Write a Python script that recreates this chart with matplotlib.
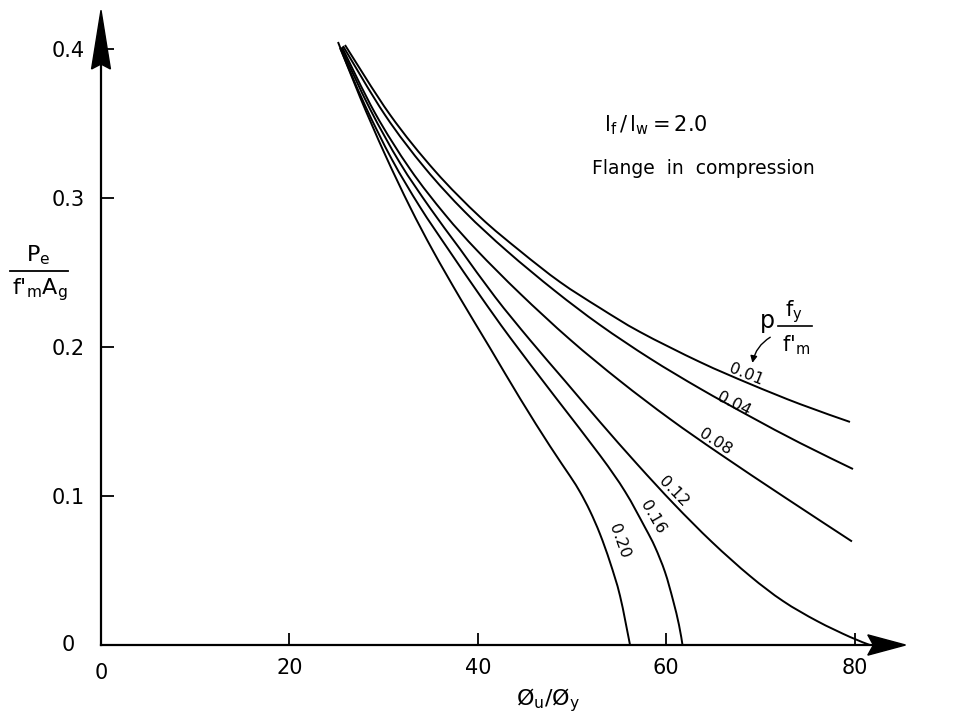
import matplotlib
matplotlib.use("Agg")
import matplotlib.pyplot as plt
from matplotlib.lines import Line2D
from matplotlib.patches import PathPatch, Polygon
from matplotlib.path import Path

plt.rcParams["font.family"] = "DejaVu Sans"
plt.rcParams["mathtext.default"] = "regular"

# ── Dados (phi_u/phi_y  x  Pe/(f'm Ag)) ───────────────────────────────────────
rho_labels = ["0.01", "0.04", "0.08", "0.12", "0.16", "0.20"]

x_001 = [25.90, 30.68, 35.46, 40.23, 44.48, 48.73, 52.97, 57.22, 63.59, 68.90, 74.20, 79.51]
y_001 = [0.4027, 0.3559, 0.3181, 0.2873, 0.2645, 0.2436, 0.2262, 0.2101, 0.1899, 0.1752,
         0.1617, 0.1497]

x_004 = [25.69, 30.15, 34.39, 38.64, 43.10, 48.20, 52.97, 58.28, 63.59, 68.90, 74.20, 79.83]
y_004 = [0.4020, 0.3557, 0.3201, 0.2906, 0.2644, 0.2376, 0.2148, 0.1923, 0.1721, 0.1534,
         0.1356, 0.1181]

x_008 = [25.58, 29.09, 32.80, 36.52, 39.92, 44.48, 49.79, 55.10, 60.40, 65.71, 72.61, 79.72]
y_008 = [0.4013, 0.3570, 0.3195, 0.2889, 0.2648, 0.2359, 0.2050, 0.1772, 0.1517, 0.1282,
         0.0990, 0.0695]

x_012 = [25.48, 28.56, 31.74, 34.93, 38.11, 41.83, 45.54, 49.26, 52.97, 56.90, 60.83,
         64.86, 68.90, 72.40, 76.01, 79.51, 81.63]
y_012 = [0.4007, 0.3597, 0.3235, 0.2933, 0.2658, 0.2336, 0.2047, 0.1772, 0.1497, 0.1215,
         0.0946, 0.0691, 0.0463, 0.0295, 0.0161, 0.0054, 0.0]

x_016 = [25.37, 28.03, 30.89, 33.86, 36.84, 40.23, 43.42, 48.20, 52.97, 55.63, 57.75,
         58.81, 59.87, 60.72, 61.36, 61.73]
y_016 = [0.4007, 0.3621, 0.3258, 0.2940, 0.2658, 0.2346, 0.2064, 0.1666, 0.1273, 0.1030,
         0.0789, 0.0658, 0.0490, 0.0302, 0.0134, 0.0]

x_020 = [25.16, 27.49, 30.15, 32.80, 35.24, 38.11, 41.30, 44.48, 47.66, 49.79, 50.85,
         51.91, 52.97, 54.03, 55.10, 56.16]
y_020 = [0.4047, 0.3678, 0.3292, 0.2940, 0.2646, 0.2329, 0.1993, 0.1655, 0.1335, 0.1134,
         0.1027, 0.0899, 0.0745, 0.0557, 0.0329, 0.0]

x_ticks = [20, 40, 60, 80]
x_tick_labels = ["20", "40", "60", "80"]
y_ticks = [0.1, 0.2, 0.3, 0.4]
y_tick_labels = ["0.1", "0.2", "0.3", "0.4"]

curvas = [(x_001, y_001), (x_004, y_004), (x_008, y_008),
          (x_012, y_012), (x_016, y_016), (x_020, y_020)]

# posição / rotação dos rótulos de cada curva
rotulos_pos = [(68.5, 0.1815, -22), (67.2, 0.162, -27), (65.2, 0.136, -33),
               (60.8, 0.103, -46), (58.6, 0.086, -60), (55.0, 0.070, -70)]


def caminho_suave(xs, ys):
    """Curva de Bezier que passa por todos os pontos lidos (Catmull-Rom)."""
    pts = list(zip(xs, ys))
    verts = [pts[0]]
    codes = [Path.MOVETO]
    for i in range(len(pts) - 1):
        p0 = pts[i - 1] if i > 0 else pts[i]
        p1 = pts[i]
        p2 = pts[i + 1]
        p3 = pts[i + 2] if i + 2 < len(pts) else pts[i + 1]
        c1 = (p1[0] + (p2[0] - p0[0]) / 6, p1[1] + (p2[1] - p0[1]) / 6)
        c2 = (p2[0] - (p3[0] - p1[0]) / 6, p2[1] - (p3[1] - p1[1]) / 6)
        verts += [c1, c2, p2]
        codes += [Path.CURVE4] * 3
    return Path(verts, codes)


fig = plt.figure(figsize=(9.61, 7.21), dpi=100)
ax = fig.add_axes([0.1051, 0.1054, 0.8332, 0.8783])
ax.set_xlim(0, 85)
ax.set_ylim(0, 0.425)

for (xs, ys), lab, (lx, ly, rot) in zip(curvas, rho_labels, rotulos_pos):
    ax.add_patch(PathPatch(caminho_suave(xs, ys), facecolor="none",
                           edgecolor="black", linewidth=1.4, joinstyle="round"))
    ax.text(lx, ly, lab, rotation=rot, rotation_mode="anchor",
            ha="center", va="center", fontsize=11.5)

# eixos com setas
for lado in ["top", "right"]:
    ax.spines[lado].set_visible(False)
ax.spines["left"].set_linewidth(1.6)
ax.spines["bottom"].set_linewidth(1.6)
ax.spines["left"].set_bounds(0, 0.39)
ax.spines["bottom"].set_bounds(0, 82)

seta_y = Polygon([(0, 0.426), (-1.0, 0.3866), (0, 0.3899), (1.0, 0.3866)],
                 closed=True, color="black", clip_on=False)
seta_x = Polygon([(85.4, 0.0), (81.4, 0.0068), (82.0, 0.0), (81.4, -0.0068)],
                 closed=True, color="black", clip_on=False)
ax.add_patch(seta_y)
ax.add_patch(seta_x)

ax.set_xticks(x_ticks)
ax.set_xticklabels(x_tick_labels)
ax.set_yticks(y_ticks)
ax.set_yticklabels(y_tick_labels)
ax.tick_params(direction="in", length=9, width=1.3, labelsize=15)
ax.tick_params(axis="y", pad=12)
ax.tick_params(axis="x", pad=9)

# rótulos "0" nos dois eixos
ax.text(-3.5, 0.0, "0", ha="center", va="center", fontsize=15)
ax.text(0.0, -0.012, "0", ha="center", va="top", fontsize=15)

# rótulo do eixo y como fração
ax.text(-6.7, 0.2615, r"P$_e$", ha="center", va="center", fontsize=16, clip_on=False)
ax.add_line(Line2D([-9.7, -3.5], [0.251, 0.251], color="black", linewidth=1.3,
                   clip_on=False))
ax.text(-6.5, 0.2385, r"f$'_m$A$_g$", ha="center", va="center", fontsize=16,
        clip_on=False)

ax.text(47.5, -0.037, r"Ø$_u$/Ø$_y$", ha="center", va="center", fontsize=16,
        clip_on=False)

ax.text(58.9, 0.349, r"$l_f\,/\,l_w = 2.0$", ha="center", va="center", fontsize=15)
ax.text(63.9, 0.320, "Flange  in  compression", ha="center", va="center", fontsize=13.5)

# p fy/f'm com seta
ax.text(70.7, 0.2175, "p", ha="center", va="center", fontsize=17)
ax.text(73.5, 0.2235, r"f$_y$", ha="center", va="center", fontsize=15)
ax.add_line(Line2D([71.9, 75.5], [0.2141, 0.2141], color="black", linewidth=1.2))
ax.text(73.8, 0.2015, r"f$'_m$", ha="center", va="center", fontsize=15)
ax.annotate("", xy=(69.1, 0.1875), xytext=(71.3, 0.2075),
            arrowprops=dict(arrowstyle="-|>", color="black", lw=1.0,
                            connectionstyle="arc3,rad=0.25", mutation_scale=10))

plt.savefig("out.png", dpi=100)
